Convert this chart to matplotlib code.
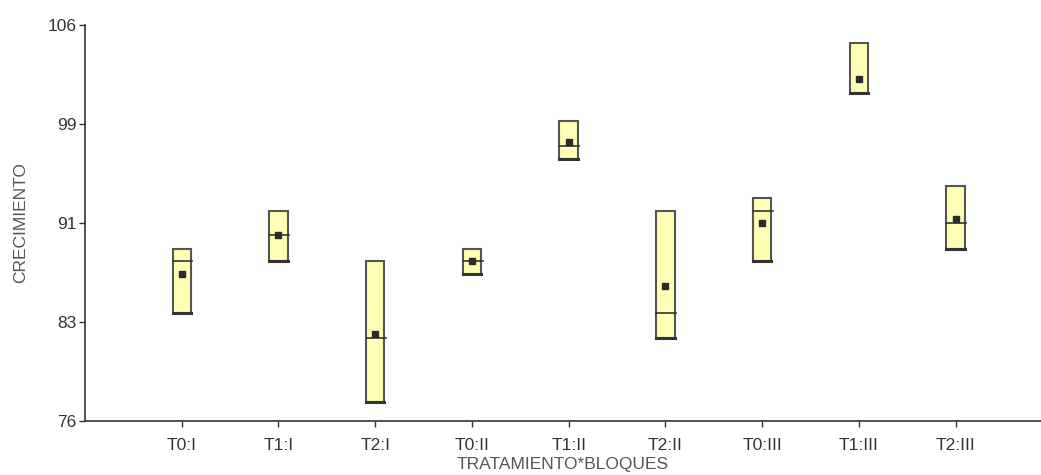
import numpy as np
import matplotlib
matplotlib.use("Agg")
import matplotlib.pyplot as plt

plt.rcParams["font.family"] = ["Liberation Sans", "DejaVu Sans"]

# Datos (mín, máx, mediana, media)
grupos = ["T0:I", "T1:I", "T2:I", "T0:II", "T1:II", "T2:II", "T0:III", "T1:III", "T2:III"]
minimos = [84.2, 88.1, 77.4, 87.1, 95.8, 82.3, 88.1, 100.8, 89.0]
maximos = [89.0, 91.9, 88.1, 89.0, 98.7, 91.9, 92.9, 104.6, 93.8]
medianas = [88.1, 90.1, 82.3, 88.1, 96.8, 84.2, 91.9, 100.8, 91.0]
medias = [87.1, 90.1, 82.6, 88.1, 97.1, 86.2, 91.0, 101.9, 91.3]

y_ticks = [76, 83.5, 91, 98.5, 106]
y_labels = ["76", "83", "91", "99", "106"]

fig = plt.figure(figsize=(10.41, 4.75), dpi=100)
ax = fig.add_axes([0.0817, 0.1137, 0.918, 0.8347])

x = np.arange(1, len(grupos) + 1)
ancho = 0.19
borde = "#555555"
relleno = "#FFFFB4"

for xi, lo, hi, med, mu in zip(x, minimos, maximos, medianas, medias):
    ax.add_patch(plt.Rectangle((xi - ancho / 2, lo), ancho, hi - lo,
                               facecolor=relleno, edgecolor=borde, linewidth=1.5, zorder=2))
    ax.plot([xi - ancho / 2, xi + ancho / 2], [lo, lo], color="#333333", lw=2.2, zorder=3)
    ax.plot([xi - ancho / 2, xi + ancho / 2 + 0.015], [med, med], color="#333333", lw=1.2, zorder=3)

ax.plot(x, medias, linestyle="none", marker="s", markersize=5,
        color="#2b2b2b", zorder=4)

ax.set_xlim(0, 9.88)
ax.set_ylim(76, 106)
ax.set_xticks(x)
ax.set_xticklabels(grupos)
ax.set_yticks(y_ticks)
ax.set_yticklabels(y_labels)

for s in ["top", "right"]:
    ax.spines[s].set_visible(False)
for s in ["left", "bottom"]:
    ax.spines[s].set_color("#333333")
    ax.spines[s].set_linewidth(1.2)

ax.tick_params(axis="both", colors="#333333", labelsize=12.5, length=4, width=1)
ax.tick_params(axis="x", pad=8)
ax.tick_params(axis="y", pad=2)

ax.set_xlabel("TRATAMIENTO*BLOQUES", fontsize=12.5, color="#555555", labelpad=3)
ax.set_ylabel("CRECIMIENTO", fontsize=12.5, color="#555555", labelpad=14)

fig.savefig("out.png", dpi=100)
